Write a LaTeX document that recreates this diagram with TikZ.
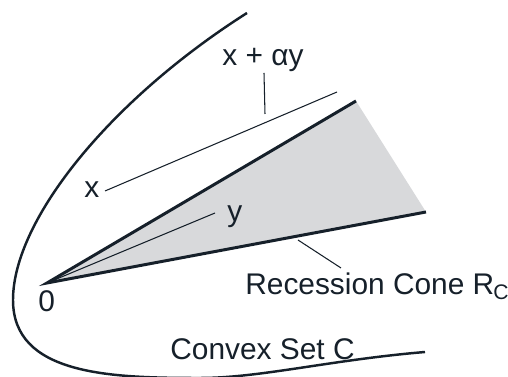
\documentclass[tikz,border=0pt]{standalone}
\usepackage{fontspec}
\setmainfont{Liberation Sans}
\usepackage{tikz}
\usetikzlibrary{positioning}
\definecolor{ink}{RGB}{22,32,42}
\definecolor{conegray}{RGB}{216,217,219}
\tikzset{
  lbl/.style={inner sep=0pt, anchor=base west, text=ink},
  edge/.style={ink, line width=1.7pt},
  thin/.style={ink, line width=0.6pt}
}
\begin{document}
\begin{tikzpicture}[x=0.02cm, y=-0.02cm, font=\fontsize{17}{20}\selectfont]
  \useasboundingbox (0,0) rectangle (508,377);
  % Points
  \coordinate (origin) at (47,283);
  \coordinate (upper) at (356,101);
  \coordinate (lower) at (426,212);
  % Cone
  \fill[conegray] (origin) -- (upper) -- (lower) -- cycle;
  \draw[edge] (upper) -- (origin) -- (lower);
  % Convex set boundary
  \draw[ink, line width=1.4pt] (247,13) .. controls (110,100) and (13,220) .. (13,300)
    .. controls (13,375) and (110,378) .. (200,378)
    .. controls (260,378) and (330,360) .. (425,352);
  % Labels
  \node[lbl] (lblx) at (84,198) {x};
  \node[lbl] (lblxy) at (222,66) {x + αy};
  \node[lbl] (lbly) at (227,222) {y};
  \node[lbl] (lblzero) at (38,312) {0};
  \node[lbl] (lblcone) at (245,295) {Recession Cone R\kern-0.5pt\raisebox{-0.1cm}{\fontsize{12}{13}\selectfont C}};
  \node[lbl] (lblset) at (170,360) {Convex Set C};
  % Half line x + alpha y and direction y
  \coordinate (xstart) at (105,191);
  \coordinate (xend) at (337,92);
  \draw[thin] (xstart) -- (xend);
  \coordinate (ytip) at (215,213);
  \draw[thin] (origin) -- (ytip);
  % Leaders
  \coordinate (leadxya) at (264,73);
  \coordinate (leadxyb) at (265,114);
  \draw[thin] (leadxya) -- (leadxyb);
  \coordinate (leadconea) at (298,240);
  \coordinate (leadconeb) at (341,268);
  \draw[thin] (leadconea) -- (leadconeb);
\end{tikzpicture}
\end{document}
